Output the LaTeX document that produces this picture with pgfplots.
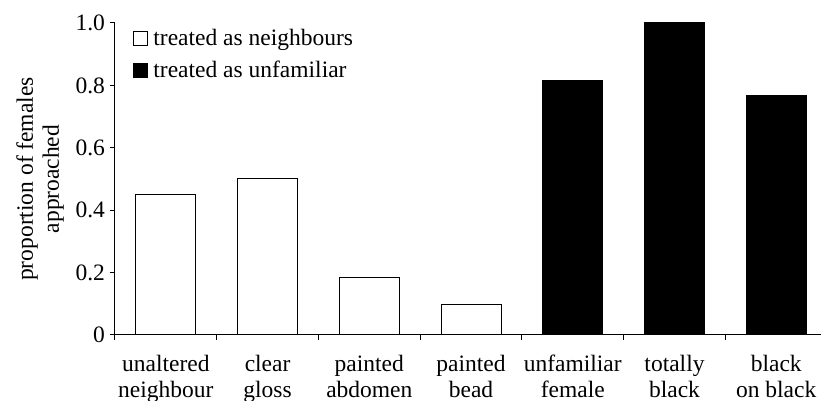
\documentclass[border=0pt]{standalone}
\usepackage{pgfplots}
\pgfplotsset{compat=1.18}
\usepackage{fontspec}
\setmainfont{Liberation Serif}
\begin{document}
\fontsize{11.75}{13}\selectfont
\begin{tikzpicture}[font=\fontsize{11.75}{13}\selectfont]
\begin{axis}[
  scale only axis, width=353pt, height=156pt,
  xmin=-0.5, xmax=6.44, ymin=0, ymax=1,
  axis x line*=bottom, axis y line*=left,
  axis line style={line width=0.5pt, -},
  every tick/.style={black, line width=0.5pt},
  tick align=outside,
  major tick length=2.5pt,
  ytick={0,0.2,0.4,0.6,0.8,1},
  yticklabels={0,0.2,0.4,0.6,0.8,1.0},
  yticklabel style={xshift=1.6pt},
  xtick={-0.5,0.5,1.5,2.5,3.5,4.5,5.5},
  xticklabels={},
  extra x ticks={0,1,2,3,4,5,6},
  extra x tick labels={unaltered\\neighbour, clear\\gloss, painted\\abdomen, painted\\bead, unfamiliar\\female, totally\\black, black\\on black},
  extra x tick style={major tick length=0pt, tick label style={align=center, yshift=-6pt}},
  ylabel={proportion of females\\approached},
  every axis y label/.style={at={([xshift=-37.5pt]axis description cs:0,0.5)}, rotate=90, anchor=center, align=center},
  ybar, bar width=30pt,
  legend style={draw=none, fill=none, at={(axis description cs:0,1)}, anchor=north west, xshift=9pt, yshift=-0.75pt, row sep=2pt, inner sep=0pt, /tikz/every odd column/.append style={column sep=0.5pt}},
  legend cell align=left,
  legend image code/.code={\draw[#1, line width=0.5pt] (0pt,-3.5pt) rectangle (7pt,3.5pt);},
]
\addplot[bar shift=0pt, draw=black, fill=white, line width=0.5pt] coordinates {(0,0.45) (1,0.5) (2,0.183) (3,0.098)};
\addlegendentry{treated as neighbours}
\addplot[bar shift=0pt, draw=black, fill=black, line width=0.5pt] coordinates {(4,0.817) (5,1.0) (6,0.767)};
\addlegendentry{treated as unfamiliar}
\end{axis}
\pgfresetboundingbox
\useasboundingbox ([xshift=-57.5pt,yshift=-33pt]current axis.south west) rectangle ([yshift=11.5pt]current axis.north east);
\end{tikzpicture}
\end{document}
